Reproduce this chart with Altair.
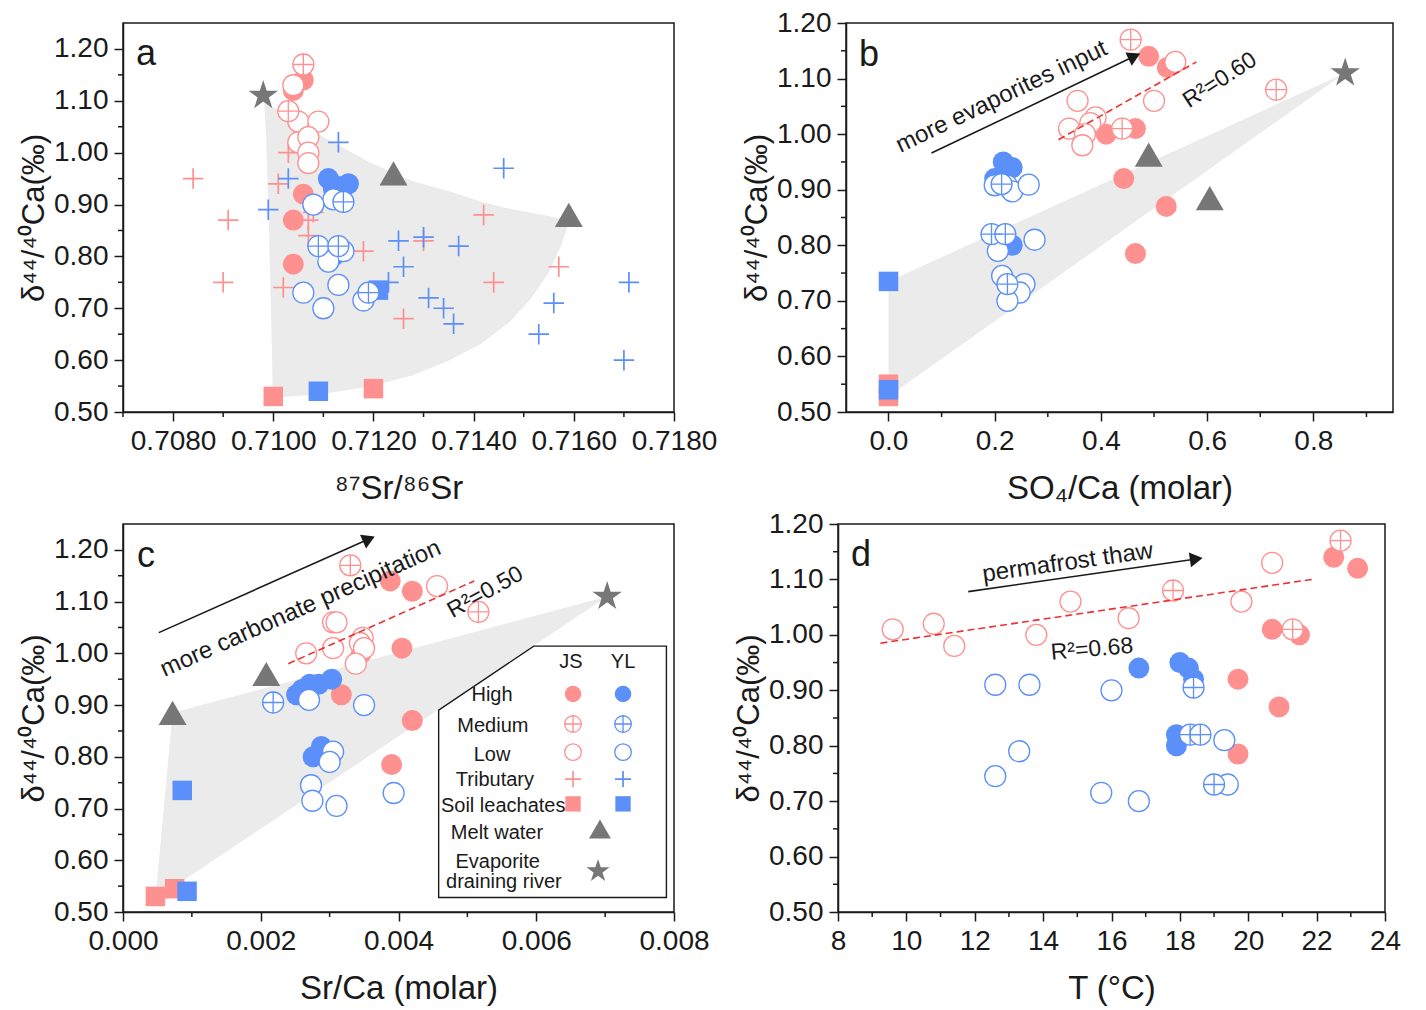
import altair as alt
import pandas as pd

# ---------------- colours / fonts ----------------
PINK = "#FF9090"
BLUE = "#5B8FF9"
GRAY = "#777777"
SHADE = "#EBEBEB"
RED = "#EE3030"
INK = "#1A1A1A"
FONT = "Liberation Sans"

# ---------------- panel a : 87Sr/86Sr ----------------
A_JS_HIGH = [(0.7106, 1.14), (0.7104, 1.12), (0.7106, 0.92), (0.7104, 0.87), (0.7104, 0.785)]
A_JS_MED = [(0.7106, 1.17), (0.7103, 1.08)]
A_JS_LOW = [(0.7104, 1.13), (0.7105, 1.06), (0.7109, 1.06), (0.7105, 1.02), (0.7107, 1.03),
            (0.7107, 1.00), (0.7107, 0.98)]
A_JS_TRIB = [(0.7084, 0.95), (0.7101, 0.94), (0.7103, 1.00), (0.7091, 0.87), (0.7108, 0.885),
             (0.7107, 0.87), (0.7107, 0.84), (0.7142, 0.88), (0.7118, 0.81), (0.7130, 0.83),
             (0.7157, 0.78), (0.7090, 0.75), (0.7102, 0.74), (0.7144, 0.75), (0.7126, 0.68)]
A_JS_SOIL = [(0.7100, 0.53), (0.7120, 0.545)]
A_YL_HIGH = [(0.7111, 0.95), (0.7115, 0.94), (0.7113, 0.935), (0.7112, 0.93), (0.7112, 0.80)]
A_YL_MED = [(0.7114, 0.905), (0.7109, 0.82), (0.7113, 0.82), (0.7119, 0.73)]
A_YL_LOW = [(0.7112, 0.91), (0.7108, 0.90), (0.7114, 0.81), (0.7111, 0.79), (0.7113, 0.745),
            (0.7106, 0.73), (0.7110, 0.70), (0.7118, 0.715)]
A_YL_TRIB = [(0.7103, 0.95), (0.7113, 1.02), (0.7146, 0.97), (0.7099, 0.89), (0.7125, 0.83),
             (0.7130, 0.837), (0.7137, 0.82), (0.7126, 0.78), (0.7171, 0.75), (0.7123, 0.75),
             (0.7156, 0.71), (0.7131, 0.72), (0.7134, 0.70), (0.7136, 0.67), (0.7153, 0.65),
             (0.7170, 0.60)]
A_YL_SOIL = [(0.7109, 0.54), (0.7121, 0.735)]
A_MELT = [(0.7124, 0.96), (0.7159, 0.88)]
A_EVAP = [(0.7098, 1.11)]
# shaded field: (x, lower edge, upper edge)
A_FIELD = [(0.70982, 1.097, 1.097), (0.70986, 1.026, 1.095), (0.70991, 0.866, 1.092),
           (0.70996, 0.673, 1.089), (0.70999, 0.528, 1.088), (0.7105, 0.531, 1.059),
           (0.71107, 0.536, 1.027), (0.71193, 0.549, 0.981), (0.71279, 0.571, 0.945),
           (0.7135, 0.599, 0.926), (0.71414, 0.631, 0.906), (0.71471, 0.673, 0.892),
           (0.71514, 0.718, 0.884), (0.7155, 0.769, 0.878), (0.71575, 0.821, 0.872),
           (0.71591, 0.869, 0.869)]

# ---------------- panel b : SO4/Ca ----------------
B_JS_HIGH = [(0.49, 1.14), (0.525, 1.12), (0.41, 1.00), (0.465, 1.01), (0.443, 0.92),
             (0.523, 0.87), (0.465, 0.785)]
B_JS_MED = [(0.456, 1.17), (0.73, 1.08), (0.44, 1.01)]
B_JS_LOW = [(0.54, 1.13), (0.50, 1.06), (0.356, 1.06), (0.39, 1.03), (0.38, 1.02), (0.34, 1.01),
            (0.37, 1.00), (0.365, 0.98)]
B_JS_SOIL = [(0.0, 0.528), (0.0, 0.550)]
B_YL_HIGH = [(0.216, 0.95), (0.233, 0.94), (0.225, 0.935), (0.20, 0.92), (0.233, 0.80)]
B_YL_MED = [(0.213, 0.91), (0.194, 0.82), (0.22, 0.82), (0.224, 0.73)]
B_YL_LOW = [(0.20, 0.908), (0.223, 0.908), (0.233, 0.897), (0.264, 0.909), (0.275, 0.81),
            (0.206, 0.79), (0.214, 0.745), (0.256, 0.73), (0.247, 0.715), (0.224, 0.70)]
B_YL_SOIL = [(0.0, 0.735), (0.0, 0.54)]
B_MELT = [(0.49, 0.963), (0.605, 0.885)]
B_EVAP = [(0.86, 1.11)]
B_FIELD = [(0.0, 0.528, 0.735), (0.86, 1.11, 1.11)]
B_FIT = [(0.32, 0.99), (0.58, 1.13)]

# ---------------- panel c : Sr/Ca ----------------
C_JS_HIGH = [(0.00388, 1.14), (0.0042, 1.12), (0.00346, 1.00), (0.00405, 1.01), (0.00317, 0.92),
             (0.0042, 0.87), (0.0039, 0.785)]
C_JS_MED = [(0.0033, 1.17), (0.00516, 1.08)]
C_JS_LOW = [(0.00456, 1.13), (0.00305, 1.06), (0.0031, 1.06), (0.00348, 1.03), (0.00344, 1.02),
            (0.0035, 1.01), (0.00266, 1.00), (0.00305, 1.01), (0.00338, 0.98)]
C_JS_SOIL = [(0.00047, 0.53), (0.00075, 0.545)]
C_YL_HIGH = [(0.00252, 0.92), (0.0026, 0.93), (0.00271, 0.94), (0.00284, 0.94), (0.00303, 0.95),
             (0.00288, 0.82), (0.00276, 0.80)]
C_YL_MED = [(0.00218, 0.905)]
C_YL_LOW = [(0.0027, 0.91), (0.0035, 0.90), (0.00305, 0.81), (0.0030, 0.79), (0.00273, 0.745),
            (0.00275, 0.715), (0.0031, 0.705), (0.00393, 0.73)]
C_YL_SOIL = [(0.00086, 0.735), (0.00093, 0.54)]
C_MELT = [(0.00072, 0.885), (0.00208, 0.96)]
C_EVAP = [(0.00703, 1.11)]
C_FIELD = [(0.00047, 0.525, 0.525), (0.00072, 0.547, 0.885), (0.00703, 1.11, 1.11)]
C_FIT = [(0.0024, 0.98), (0.0051, 1.14)]

# legend (drawn inside panel c, in its data units): (x, bottom, top) of the cut-corner box
LEG_BOX = [(0.004583, 0.528, 0.89), (0.005964, 0.528, 1.014), (0.00789, 0.528, 1.014)]
LEG_HEAD = [("JS", 0.006505, 0.983), ("YL", 0.00726, 0.983)]
LEG_LABELS = [("High", 0.005358, 0.9195), ("Medium", 0.00537, 0.8595), ("Low", 0.005358, 0.8035),
              ("Tributary", 0.0054, 0.755), ("Soil leachates", 0.00552, 0.705),
              ("Melt water", 0.00543, 0.653), ("Evaporite", 0.00544, 0.5966),
              ("draining river", 0.00553, 0.558)]
LEG_KINDS = ["high", "med", "low", "trib", "soil"]
LEG_ROW_Y = [0.9214, 0.8634, 0.809, 0.757, 0.709]
LEG_COL_X = {"JS": 0.006534, "YL": 0.00726}
LEG_MELT = [(0.006925, 0.6605)]
LEG_EVAP = [(0.006897, 0.579)]

# ---------------- panel d : T ----------------
D_JS_HIGH = [(22.5, 1.14), (23.2, 1.12), (20.7, 1.01), (21.5, 1.00), (19.7, 0.92), (20.9, 0.87),
             (19.7, 0.785)]
D_JS_MED = [(17.8, 1.08), (22.7, 1.17), (21.3, 1.01)]
D_JS_LOW = [(9.6, 1.01), (10.8, 1.02), (11.4, 0.98), (13.8, 1.00), (14.8, 1.06), (16.5, 1.03),
            (19.8, 1.06), (20.7, 1.13)]
D_YL_HIGH = [(16.8, 0.94), (18.0, 0.95), (18.25, 0.94), (18.4, 0.92), (17.9, 0.82), (17.9, 0.80)]
D_YL_MED = [(18.4, 0.905), (18.3, 0.82), (18.6, 0.82), (19.0, 0.73)]
D_YL_LOW = [(12.6, 0.91), (13.6, 0.91), (16.0, 0.90), (19.3, 0.81), (13.3, 0.79), (12.6, 0.745),
            (15.7, 0.715), (16.8, 0.70), (19.4, 0.73)]
D_FIT = [(9.24, 0.985), (21.86, 1.10)]

# ---------------- ticks / titles ----------------
Y_MAJOR = [0.50, 0.60, 0.70, 0.80, 0.90, 1.00, 1.10, 1.20]
Y_MINOR = [0.55, 0.65, 0.75, 0.85, 0.95, 1.05, 1.15]
XA_MAJOR = [0.7080, 0.7100, 0.7120, 0.7140, 0.7160, 0.7180]
XA_MINOR = [0.7070, 0.7090, 0.7110, 0.7130, 0.7150, 0.7170]
XB_MAJOR = [0.0, 0.2, 0.4, 0.6, 0.8]
XB_MINOR = [0.1, 0.3, 0.5, 0.7, 0.9]
XC_MAJOR = [0.000, 0.002, 0.004, 0.006, 0.008]
XC_MINOR = [0.001, 0.003, 0.005, 0.007]
XD_MAJOR = [8, 10, 12, 14, 16, 18, 20, 22, 24]
XD_MINOR = [9, 11, 13, 15, 17, 19, 21, 23]
Y_TITLE = "δ⁴⁴/⁴⁰Ca(‰)"
X_TITLES = ["⁸⁷Sr/⁸⁶Sr", "SO₄/Ca (molar)", "Sr/Ca (molar)", "T (°C)"]

PLUS_PATH = "M-1,0L1,0M0,-1L0,1"
STAR_PATH = ("M0,-1L0.2245,-0.309L0.951,-0.309L0.3633,0.118L0.5878,0.809L0,0.382"
             "L-0.5878,0.809L-0.3633,0.118L-0.951,-0.309L-0.2245,-0.309Z")
STYLES = [
    ("soil", [dict(shape="square", filled=True)], 380),
    ("melt", [dict(shape="triangle-up", filled=True)], 780),
    ("evap", [dict(shape=STAR_PATH, filled=True)], 960),
    ("trib", [dict(shape=PLUS_PATH, filled=False, strokeWidth=1.7)], 420),
    ("high", [dict(shape="circle", filled=True)], 441),
    ("low", [dict(shape="circle", filled=False, fill="white", strokeWidth=1.3)], 441),
    ("med", [dict(shape="circle", filled=False, fill="white", strokeWidth=1.3),
             dict(shape=PLUS_PATH, filled=False, strokeWidth=1.3)], 441),
]
CSCALE = alt.Scale(domain=["JS", "YL", "M"], range=[PINK, BLUE, GRAY])


def rows(pairs, region, kind):
    return [{"x": x, "y": y, "region": region, "kind": kind} for x, y in pairs]


def y_enc(top):
    return alt.Y("y:Q", scale=alt.Scale(domain=[0.5, top], nice=False, zero=False),
                 axis=alt.Axis(values=Y_MAJOR, format=".2f", tickSize=9, title=Y_TITLE,
                               titlePadding=3, grid=False, labelOverlap=False))


def x_enc(dom, ticks, fmt, title):
    return alt.X("x:Q", scale=alt.Scale(domain=dom, nice=False, zero=False),
                 axis=alt.Axis(values=ticks, format=fmt, tickSize=9, title=title, titlePadding=17,
                               titleFontSize=33, labelFlush=False, labelOverlap=False, grid=False))


def minor_ticks(xvals, yvals, xe, ye, height):
    xdf = pd.DataFrame({"x": xvals})
    ydf = pd.DataFrame({"y": yvals})
    xt = alt.Chart(xdf).mark_rule(color=INK, strokeWidth=1.5).encode(
        x=xe, y=alt.value(height), y2=alt.value(height + 5))
    yt = alt.Chart(ydf).mark_rule(color=INK, strokeWidth=1.5).encode(
        y=ye, x=alt.value(0), x2=alt.value(-5))
    return [xt, yt]


def markers(df, xe, ye, scale=1.0):
    out = []
    for kind, props_list, size in STYLES:
        sub = df[df["kind"] == kind]
        if sub.empty:
            continue
        for props in props_list:
            out.append(alt.Chart(sub).mark_point(size=size * scale, opacity=1, **props).encode(
                x=xe, y=ye, color=alt.Color("region:N", scale=CSCALE, legend=None)))
    return out


def field(triples, xe, ye, fill, stroke=None, sw=0.0):
    df = pd.DataFrame({"x": [t[0] for t in triples], "y": [t[1] for t in triples],
                       "y2": [t[2] for t in triples]})
    props = dict(color=fill, opacity=1, interpolate="linear")
    if stroke:
        props.update(stroke=stroke, strokeWidth=sw)
    return alt.Chart(df).mark_area(**props).encode(x=xe, y=ye, y2="y2:Q")


def fit_line(pairs, xe, ye):
    df = pd.DataFrame({"x": [p[0] for p in pairs], "y": [p[1] for p in pairs]})
    return alt.Chart(df).mark_line(color=RED, strokeDash=[7, 4], strokeWidth=1.6).encode(x=xe, y=ye)


def arrow(start, end, ang, xe, ye):
    df = pd.DataFrame({"x": [start[0]], "y": [start[1]], "x2": [end[0]], "y2": [end[1]]})
    rule = alt.Chart(df).mark_rule(color=INK, strokeWidth=1.6).encode(x=xe, y=ye, x2="x2:Q", y2="y2:Q")
    head = alt.Chart(pd.DataFrame({"x": [end[0]], "y": [end[1]]})).mark_point(
        shape="triangle-right", filled=True, color=INK, size=220, angle=ang, opacity=1).encode(x=xe, y=ye)
    return [rule, head]


def text(x, y, label, xe, ye, size, angle=0):
    df = pd.DataFrame({"x": [x], "y": [y], "t": [label]})
    return alt.Chart(df).mark_text(font=FONT, fontSize=size, angle=angle, color=INK,
                                   align="center", baseline="middle").encode(x=xe, y=ye, text="t:N")


# ---------------- panel a ----------------
xa = x_enc([0.7070, 0.7180], XA_MAJOR, ".4f", X_TITLES[0])
ya = y_enc(1.25)
dfa = pd.DataFrame(rows(A_JS_SOIL, "JS", "soil") + rows(A_YL_SOIL, "YL", "soil") +
                   rows(A_MELT, "M", "melt") + rows(A_EVAP, "M", "evap") +
                   rows(A_JS_TRIB, "JS", "trib") + rows(A_YL_TRIB, "YL", "trib") +
                   rows(A_JS_HIGH, "JS", "high") + rows(A_YL_HIGH, "YL", "high") +
                   rows(A_JS_LOW, "JS", "low") + rows(A_YL_LOW, "YL", "low") +
                   rows(A_JS_MED, "JS", "med") + rows(A_YL_MED, "YL", "med"))
pa = alt.layer(field(A_FIELD, xa, ya, SHADE), *markers(dfa, xa, ya),
               *minor_ticks(XA_MINOR, Y_MINOR, xa, ya, 389),
               text(0.70746, 1.19, "a", xa, ya, 36)).properties(width=551, height=389)

# ---------------- panel b ----------------
xb = x_enc([-0.08, 0.95], XB_MAJOR, ".1f", X_TITLES[1])
yb = y_enc(1.2)
dfb = pd.DataFrame(rows(B_JS_SOIL, "JS", "soil") + rows(B_YL_SOIL, "YL", "soil") +
                   rows(B_MELT, "M", "melt") + rows(B_EVAP, "M", "evap") +
                   rows(B_JS_HIGH, "JS", "high") + rows(B_YL_HIGH, "YL", "high") +
                   rows(B_JS_LOW, "JS", "low") + rows(B_YL_LOW, "YL", "low") +
                   rows(B_JS_MED, "JS", "med") + rows(B_YL_MED, "YL", "med"))
pb = alt.layer(field(B_FIELD, xb, yb, SHADE), *markers(dfb, xb, yb), fit_line(B_FIT, xb, yb),
               *arrow((0.081, 0.966), (0.463, 1.14), 334.5, xb, yb),
               *minor_ticks(XB_MINOR, Y_MINOR, xb, yb, 389),
               text(0.213, 1.067, "more evaporites input", xb, yb, 24, 334.5),
               text(0.624, 1.097, "R²=0.60", xb, yb, 23, 327),
               text(-0.0367, 1.142, "b", xb, yb, 36)).properties(width=547, height=389)

# ---------------- panel c ----------------
xc = x_enc([0.0, 0.008], XC_MAJOR, ".3f", X_TITLES[2])
yc = y_enc(1.25)
dfc = pd.DataFrame(rows(C_JS_SOIL, "JS", "soil") + rows(C_YL_SOIL, "YL", "soil") +
                   rows(C_MELT, "M", "melt") + rows(C_EVAP, "M", "evap") +
                   rows(C_JS_HIGH, "JS", "high") + rows(C_YL_HIGH, "YL", "high") +
                   rows(C_JS_LOW, "JS", "low") + rows(C_YL_LOW, "YL", "low") +
                   rows(C_JS_MED, "JS", "med") + rows(C_YL_MED, "YL", "med"))
leg_rows = []
for kind, yy in zip(LEG_KINDS, LEG_ROW_Y):
    for reg in ["JS", "YL"]:
        leg_rows += rows([(LEG_COL_X[reg], yy)], reg, kind)
leg_rows += rows(LEG_MELT, "M", "melt") + rows(LEG_EVAP, "M", "evap")
dfleg = pd.DataFrame(leg_rows)
leg_text = [text(x, y, t, xc, yc, 20) for t, x, y in LEG_HEAD + LEG_LABELS]
pc = alt.layer(field(C_FIELD, xc, yc, SHADE), *markers(dfc, xc, yc), fit_line(C_FIT, xc, yc),
               *arrow((0.00052, 1.04), (0.00357, 1.221), 336, xc, yc),
               *minor_ticks(XC_MINOR, Y_MINOR, xc, yc, 388),
               text(0.00258, 1.086, "more carbonate precipitation", xc, yc, 24, 336),
               text(0.00526, 1.118, "R²=0.50", xc, yc, 23, 331),
               text(0.000334, 1.188, "c", xc, yc, 36),
               field(LEG_BOX, xc, yc, "white", INK, 1.4),
               *markers(dfleg, xc, yc, 0.62), *leg_text).properties(width=551, height=388)

# ---------------- panel d ----------------
xd = x_enc([8, 24], XD_MAJOR, "d", X_TITLES[3])
yd = y_enc(1.2)
dfd = pd.DataFrame(rows(D_JS_HIGH, "JS", "high") + rows(D_YL_HIGH, "YL", "high") +
                   rows(D_JS_LOW, "JS", "low") + rows(D_YL_LOW, "YL", "low") +
                   rows(D_JS_MED, "JS", "med") + rows(D_YL_MED, "YL", "med"))
pd_ = alt.layer(*markers(dfd, xd, yd), fit_line(D_FIT, xd, yd),
                *arrow((11.81, 1.078), (18.48, 1.137), 351.8, xd, yd),
                *minor_ticks(XD_MINOR, Y_MINOR, xd, yd, 388),
                text(14.72, 1.13, "permafrost thaw", xd, yd, 24, 352),
                text(15.43, 0.974, "R²=0.68", xd, yd, 23, 355),
                text(8.67, 1.144, "d", xd, yd, 36)).properties(width=547, height=388)

top = alt.hconcat(pa, pb, spacing=22)
bottom = alt.hconcat(pc, pd_, spacing=22)
chart = alt.vconcat(top, bottom, spacing=3).properties(
    padding={"left": 9, "top": 0, "right": 0, "bottom": 0}
).configure_view(stroke=INK, strokeWidth=1.5).configure_axis(
    domainColor=INK, domainWidth=1.5, tickColor=INK, tickWidth=1.5,
    labelFont=FONT, labelFontSize=28, labelColor=INK, labelPadding=6,
    titleFont=FONT, titleFontSize=31, titleColor=INK, titleFontWeight="normal"
)

chart.save("out.html", embed_options={"renderer": "svg", "actions": False})
